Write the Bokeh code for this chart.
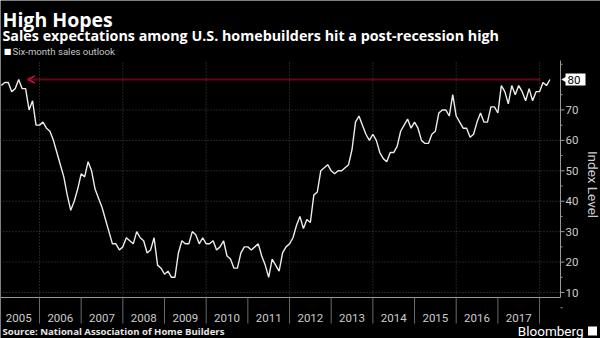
from math import pi
from bokeh.plotting import figure
from bokeh.models import Range1d, Label, Arrow, OpenHead
from bokeh.core.properties import value
from bokeh.embed import file_html
from bokeh.resources import INLINE

# ---------------- data ----------------
title_text = "High Hopes"
subtitle_text = "Sales expectations among U.S. homebuilders hit a post-recession high"
series_name = "Six-month sales outlook"
source_text = "Source: National Association of Home Builders"
axis_title = "Index Level"
brand_text = "Bloomberg"

start_year = 2005
start_month = 2  # first monthly observation: Feb 2005

outlook = [
    78, 79, 79, 76, 77, 80, 77, 77, 70, 73,
    65, 65, 66, 64, 63, 60, 56, 52, 48, 42,
    37, 40, 44, 49, 48, 53, 50, 44, 41, 38,
    34, 30, 26, 26, 24, 25, 28, 27, 26, 30,
    28, 27, 23, 24, 28, 19, 18, 16, 17, 15,
    15, 23, 27, 26, 26, 30, 29, 26, 28, 26,
    26, 27, 24, 25, 27, 22, 21, 18, 18, 23,
    25, 25, 24, 25, 26, 22, 19, 15, 21, 19,
    17, 23, 25, 26, 28, 32, 35, 31, 34, 33,
    42, 43, 50, 51, 52, 50, 49, 50, 50, 51,
    52, 57, 66, 68, 65, 62, 60, 62, 60, 56,
    54, 53, 56, 56, 58, 63, 65, 67, 64, 66,
    64, 60, 59, 59, 62, 63, 69, 70, 70, 68,
    75, 68, 66, 64, 64, 61, 62, 66, 69, 66,
    66, 71, 71, 69, 78, 76, 72, 78, 75, 78,
    76, 73, 77, 73, 76, 76, 79, 78, 80,
]
months = [start_year + (start_month - 1 + i) / 12 for i in range(len(outlook))]

year_labels = [str(y) for y in range(2005, 2018)]
year_centers = [y + 0.5 for y in range(2005, 2018)]
year_bounds = list(range(2006, 2019))
grid_years = list(range(2006, 2019, 2))
y_ticks = [10, 20, 30, 40, 50, 60, 70]
y_tick_labels = [str(t) for t in y_ticks]
y_minor = [5, 15, 25, 35, 45, 55, 65, 75, 85]
highlight_value = outlook[-1]
highlight_from = 2018.0
highlight_to = 2005.72

# ---------------- geometry (pixel <-> data) ----------------
W, H = 600, 338
PX_PER_YEAR = 41.67
PX_PER_UNIT = 3.043
X_AT_PX0 = 2006 - 39 / PX_PER_YEAR


def px_x(px):
    return X_AT_PX0 + px / PX_PER_YEAR


def px_y(py):
    return 80 - (py - 79) / PX_PER_UNIT


x_left, x_right = px_x(0), px_x(560)
y_bot, y_top = px_y(297), px_y(60)

# ---------------- styles ----------------
RED = "#c8102e"
LINE = "#ececec"
GRID = "#444444"
AXIS = "#9a9a9a"
TICKTXT = "#cccccc"

p = figure(width=W, height=H, output_backend="svg", toolbar_location=None,
           x_range=Range1d(px_x(0), px_x(W)), y_range=Range1d(px_y(H), px_y(0)),
           x_axis_location=None, y_axis_location=None, title=None,
           min_border=0, min_border_left=0, min_border_right=0,
           min_border_top=0, min_border_bottom=0,
           background_fill_color="black", border_fill_color="black",
           outline_line_color=None)
p.xgrid.visible = False
p.ygrid.visible = False

# gridlines
p.segment(x0=x_left, x1=x_right, y0=y_ticks, y1=y_ticks,
          line_color=GRID, line_dash="1 2", line_width=1)
p.segment(x0=grid_years, x1=grid_years, y0=y_bot, y1=y_top,
          line_color=GRID, line_dash="1 2", line_width=1)

# bottom axis: line, year separators, centred year labels
p.segment(x0=x_left, x1=x_right, y0=y_bot, y1=y_bot, line_color=AXIS, line_width=1)
p.segment(x0=year_bounds, x1=year_bounds, y0=y_bot, y1=px_y(323),
          line_color="#6a6a6a", line_width=1)
p.text(x=year_centers, y=px_y(317.5), text=year_labels,
       text_font=value("Roboto"), text_font_size="11.5px", text_color=TICKTXT,
       text_align="center", text_baseline="middle")

# right axis: line, ticks, labels
p.segment(x0=x_right, x1=x_right, y0=y_bot, y1=y_top, line_color=AXIS, line_width=1)
p.segment(x0=x_right, x1=x_right + 4 / PX_PER_YEAR, y0=y_ticks, y1=y_ticks,
          line_color=AXIS, line_width=1)
p.segment(x0=x_right, x1=x_right + 2 / PX_PER_YEAR, y0=y_minor, y1=y_minor,
          line_color=AXIS, line_width=1)
p.text(x=x_right + 5 / PX_PER_YEAR, y=y_ticks, text=y_tick_labels,
       text_font=value("Roboto"), text_font_size="11.5px", text_color=TICKTXT,
       text_align="left", text_baseline="middle")

# red reference line with arrow
p.add_layout(Arrow(end=OpenHead(size=7, line_color=RED, line_width=1.5),
                   x_start=highlight_from, y_start=highlight_value,
                   x_end=highlight_to, y_end=highlight_value,
                   line_color=RED, line_width=1.8, line_dash="1 1"))

# series
p.line(months, outlook, line_color=LINE, line_width=1.4)

# last-value callout on the axis
p.rect(x=px_x(575), y=highlight_value, width=20, height=12,
       width_units="screen", height_units="screen",
       fill_color="white", line_color=None)
p.scatter(x=px_x(566), y=highlight_value, marker="triangle", size=9, angle=pi / 2,
          fill_color="white", line_color=None)
p.text(x=px_x(567), y=highlight_value, text=[str(highlight_value)],
       text_font=value("Roboto"), text_font_size="11.5px", text_color="black",
       text_align="left", text_baseline="middle")

# ---------------- texts ----------------
def lab(text, x, cy, size, color="white", font="Open Sans", style="normal",
        align="left", baseline="alphabetic", **kw):
    p.add_layout(Label(text=text, x=x, y=H - cy, x_units="screen", y_units="screen",
                       text_font=font, text_font_size=size, text_color=color,
                       text_font_style=style, text_align=align,
                       text_baseline=baseline, **kw))


lab(title_text, 2, 19, "19.5px", style="bold")
lab(subtitle_text, 2, 35, "14.3px", style="bold")
lab("\u25A0", 7, 51, "8px", color="white", font="DejaVu Sans", align="center",
    baseline="middle")
lab(series_name, 12, 51, "9.6px", color="#c4c4c4", font="Roboto", baseline="middle")
lab(source_text, 2, 331, "9.6px", color="#e6e6e6", style="bold", baseline="middle")
lab(brand_text, 583, 330.5, "13.5px", color="white", font="Roboto", align="right",
    baseline="middle")
lab(axis_title, 592, 184, "13.5px", color=TICKTXT, font="Roboto", align="center",
    baseline="middle", angle=-pi / 2)

# brand mark
p.rect(x=px_x(592), y=px_y(330.5), width=9, height=9,
       width_units="screen", height_units="screen",
       fill_color="white", line_color=None)

open("out.html", "w").write(file_html(p, INLINE))
